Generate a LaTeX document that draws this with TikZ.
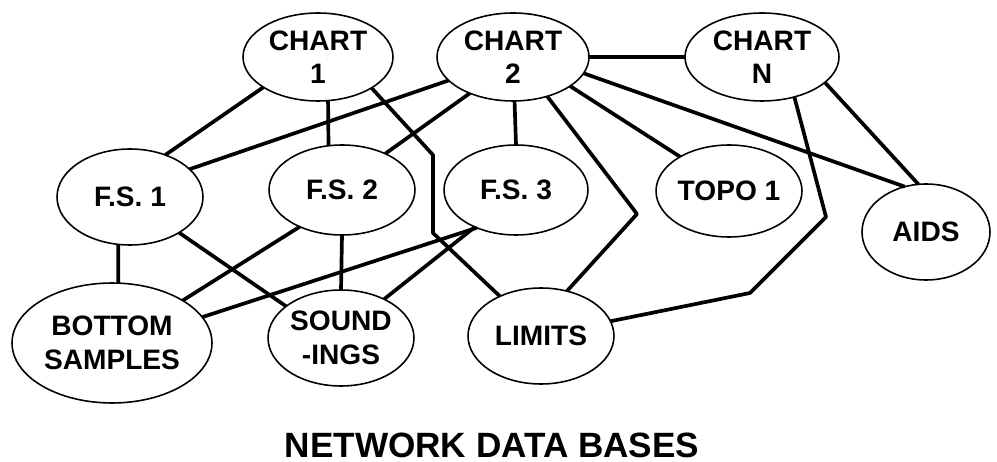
\documentclass[tikz,border=0pt]{standalone}
\usepackage{fontspec}
\setmainfont{Liberation Sans}
\usetikzlibrary{shapes.geometric}

\begin{document}
\begin{tikzpicture}[x = 0.02cm, y = -0.02cm,
  base/.style = {ellipse, draw, line width = 0.9pt, inner sep = 0pt, outer sep = 0pt,
    align = center, font = \fontsize{16}{19}\selectfont\bfseries},
  link/.style = {line width = 2.1pt, line join = round}]
\useasboundingbox[fill = white] (0, 0) rectangle (997, 462);
% Charts
\node[base, minimum width = 3cm, minimum height = 1.76cm] (chart1) at (318, 57) {CHART\\1};
\node[base, minimum width = 3.04cm, minimum height = 1.76cm] (chart2) at (513, 57) {CHART\\2};
\node[base, minimum width = 3.08cm, minimum height = 1.76cm] (chartN) at (762, 57) {CHART\\N};
% Middle row
\node[base, minimum width = 2.92cm, minimum height = 1.92cm] (fs1) at (130, 197) {F.S. 1};
\node[base, minimum width = 2.92cm, minimum height = 1.8cm] (fs2) at (342, 190) {F.S. 2};
\node[base, minimum width = 2.88cm, minimum height = 1.8cm] (fs3) at (516, 190) {F.S. 3};
\node[base, minimum width = 2.92cm, minimum height = 1.84cm] (topo1) at (729, 191) {TOPO 1};
\node[base, minimum width = 2.56cm, minimum height = 1.92cm] (aids) at (926, 232) {AIDS};
% Bottom row
\node[base, minimum width = 4cm, minimum height = 2.4cm] (bottom) at (112, 343) {BOTTOM\\SAMPLES};
\node[base, minimum width = 2.92cm, minimum height = 1.92cm] (soundings) at (341, 338) {SOUND\\-INGS};
\node[base, minimum width = 2.92cm, minimum height = 1.92cm] (limits) at (541, 336) {LIMITS};
% Title
\node[inner sep = 0pt, font = \fontsize{20}{24}\selectfont\bfseries] (title) at (492, 445) {NETWORK DATA BASES};
% Bends
\coordinate (bendA1) at (433, 155);
\coordinate (bendA2) at (433, 233);
\coordinate (bendB) at (637, 214);
\coordinate (bendC1) at (826, 217);
\coordinate (bendC2) at (750, 293);
% Links from the charts
\draw[link] (chart1.209) -- (fs1.50);
\draw[link] (chart1.283) -- (fs2.107);
\draw[link] (chart1.330) -- (bendA1) -- (bendA2) -- (limits.136);
\draw[link] (chart2.200) -- (fs1.25);
\draw[link] (chart2.220) -- (fs2.40);
\draw[link] (chart2.272) -- (fs3.north);
\draw[link] (chart2.311) -- (bendB) -- (limits.60);
\draw[link] (chart2.333) -- (topo1.145);
\draw[link] (chart2.347) -- (aids.115);
\draw[link] (chart2.east) -- (chartN.west);
\draw[link] (chartN.309) -- (bendC1) -- (bendC2) -- (limits.12);
\draw[link] (chartN.338) -- (aids.99);
% Links from the field sheets
\draw[link] (fs1.256) -- (bottom.84);
\draw[link] (fs1.324) -- (soundings.150);
\draw[link] (fs2.221) -- (bottom.31);
\draw[link] (fs2.south) -- (soundings.north);
\draw[link] (fs3.224) -- (bottom.16);
\draw[link] (fs3.222) -- (soundings.42);
\end{tikzpicture}
\end{document}
